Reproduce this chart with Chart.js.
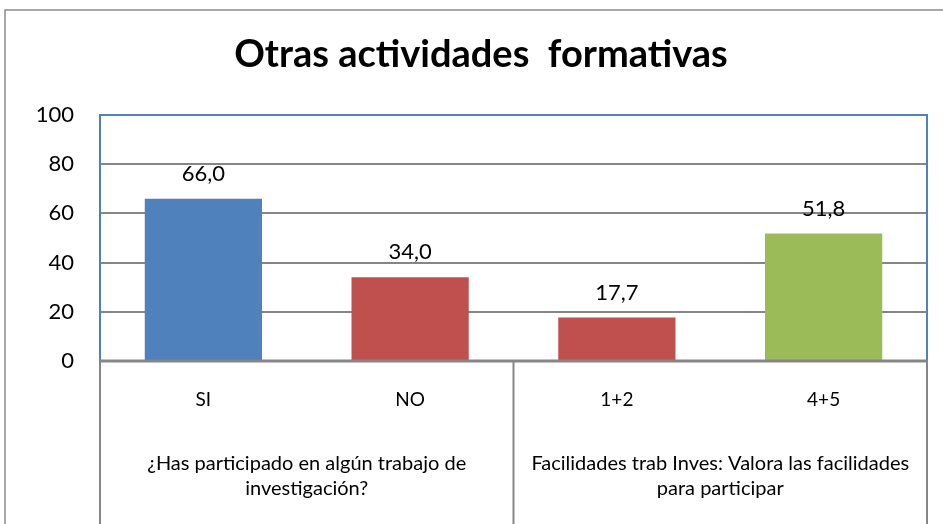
<!DOCTYPE html>
<html>
<head>
<meta charset="utf-8">
<title>Otras actividades formativas</title>
<script src="https://cdn.jsdelivr.net/npm/chart.js@4.4.0/dist/chart.umd.min.js"></script>
<style>
  body { margin: 0; background: #fff; }
  #wrap { width: 943px; height: 524px; position: relative; }
</style>
</head>
<body>
<div id="wrap"><canvas id="barChart"></canvas></div>
<script>
// datos del grafico
const chartTitle = 'Otras actividades  formativas';
const categories = ['SI', 'NO', '1+2', '4+5'];
const values = [66.0, 34.0, 17.7, 51.8];
const barColors = ['#4F81BD', '#C0504D', '#C0504D', '#9BBB59'];
const groupLabels = [
  ['¿Has participado en algún trabajo de', 'investigación?'],
  ['Facilidades trab Inves: Valora las facilidades', 'para participar']
];
const groupSizes = [2, 2];
const yMin = 0, yMax = 100, yStep = 20;

const FONT = 'Lato, "Open Sans", sans-serif';
const GRAY = '#868686';

// dibuja titulo, bordes, etiquetas de datos y eje de categorias en dos niveles
const excelLook = {
  id: 'excelLook',
  afterDraw(chart) {
    const ctx = chart.ctx;
    const area = chart.chartArea;
    const x = chart.scales.x;
    const y = chart.scales.y;
    ctx.save();

    // borde exterior
    ctx.strokeStyle = '#8c8c8c';
    ctx.lineWidth = 1.5;
    ctx.strokeRect(5, 10, 1000, 600);

    // titulo
    ctx.fillStyle = '#000';
    ctx.font = 'bold 38px ' + FONT;
    ctx.textAlign = 'center';
    ctx.textBaseline = 'middle';
    ctx.fillText(chartTitle, 481, 55);

    // borde del area de trazado
    ctx.strokeStyle = '#4F81BD';
    ctx.lineWidth = 2;
    ctx.strokeRect(area.left, area.top, area.right - area.left, area.bottom - area.top);

    // linea del cero
    ctx.strokeStyle = GRAY;
    ctx.lineWidth = 3;
    ctx.beginPath();
    ctx.moveTo(area.left - 1, y.getPixelForValue(0));
    ctx.lineTo(area.right + 1, y.getPixelForValue(0));
    ctx.stroke();

    // etiquetas de datos
    ctx.fillStyle = '#000';
    ctx.font = '22px ' + FONT;
    ctx.textBaseline = 'middle';
    chart.getDatasetMeta(0).data.forEach((bar, i) => {
      ctx.fillText(values[i].toFixed(1).replace('.', ','), bar.x, bar.y - 25);
    });

    // separadores y etiquetas de grupo
    const cw = (x.right - x.left) / categories.length;
    ctx.strokeStyle = GRAY;
    ctx.lineWidth = 2;
    ctx.font = '20px ' + FONT;
    let start = 0;
    const bounds = [x.left];
    groupSizes.forEach((n, g) => {
      const left = x.getPixelForTick(start) - cw / 2;
      const right = x.getPixelForTick(start + n - 1) + cw / 2;
      bounds.push(right);
      const cx = (left + right) / 2;
      groupLabels[g].forEach((line, k) => {
        ctx.fillText(line, cx, 464 + k * 25);
      });
      start += n;
    });
    bounds.forEach(bx => {
      ctx.beginPath();
      ctx.moveTo(bx, area.bottom);
      ctx.lineTo(bx, chart.height);
      ctx.stroke();
    });
    ctx.restore();
  }
};

const barData = {
  labels: categories,
  datasets: [
    {
      label: 'Otras actividades formativas',
      data: values,
      backgroundColor: barColors,
      borderWidth: 0,
      categoryPercentage: 1.0,
      barPercentage: 0.567,
    },
  ],
};

const barConfig = {
  type: 'bar',
  data: barData,
  options: {
    responsive: true,
    maintainAspectRatio: false,
    animation: false,
    layout: { padding: { top: 115, left: 0, right: 16, bottom: 0 } },
    plugins: {
      legend: { display: false },
      title: { display: false },
      tooltip: { enabled: false },
    },
    scales: {
      x: {
        grid: { display: false, drawTicks: false },
        border: { display: false },
        ticks: { color: '#000', font: { family: FONT, size: 19 }, padding: 27 },
        afterFit: (scale) => { scale.height = 163; },
      },
      y: {
        min: yMin,
        max: yMax,
        grid: { color: GRAY, lineWidth: 2, drawTicks: false },
        border: { display: false },
        ticks: { stepSize: yStep, color: '#000', font: { family: FONT, size: 22 }, padding: 26 },
        afterFit: (scale) => { scale.width = 100; },
      },
    },
  },
  plugins: [excelLook],
};

var barChart = new Chart(document.getElementById('barChart'), barConfig);
</script>
</body>
</html>
